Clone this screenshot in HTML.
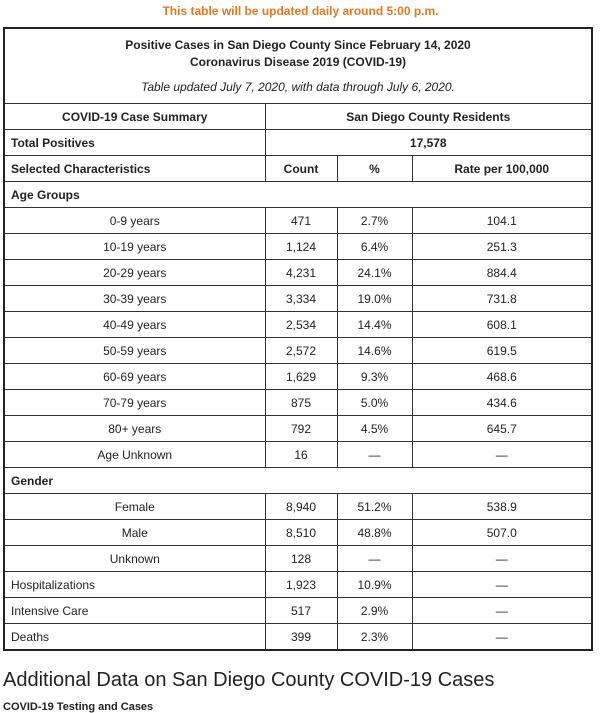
<!DOCTYPE html>
<html><head><style>
body{margin:0;background:#fff;width:601px;height:708px;overflow:hidden;font-family:"Liberation Sans",Arial,sans-serif;color:#222;position:relative}
.top{position:absolute;top:4px;left:0;width:601px;text-align:center;color:#e87722;font-weight:bold;font-size:12px}
table{position:absolute;left:3px;top:27px;border-collapse:collapse;table-layout:fixed;width:590px;border:2px solid #222;font-size:12px}
td{border:1px solid #333;height:25px;padding:0 6px;text-align:center;white-space:nowrap;overflow:hidden}
td.l{text-align:left}
b,.b{font-weight:bold}
.title td{height:74px;line-height:17px}
h2{position:absolute;top:669px;left:3px;margin:0;font-weight:normal;font-size:20px;color:#222}
.sub{position:absolute;top:701px;left:3px;font-size:11px;font-weight:bold}
</style></head><body>
<div class="top">This table will be updated daily around 5:00 p.m.</div>
<table>
<colgroup><col style="width:261px"><col style="width:72px"><col style="width:75px"><col></colgroup>
<tr class="title"><td colspan="4"><b>Positive Cases in San Diego County Since February 14, 2020<br>Coronavirus Disease 2019 (COVID-19)</b><div style="font-style:italic;margin-top:8px">Table updated July 7, 2020, with data through July 6, 2020.</div></td></tr>
<tr class="b"><td>COVID-19 Case Summary</td><td colspan="3">San Diego County Residents</td></tr>
<tr class="b"><td class="l">Total Positives</td><td colspan="3">17,578</td></tr>
<tr class="b"><td class="l">Selected Characteristics</td><td>Count</td><td>%</td><td>Rate per 100,000</td></tr>
<tr class="b"><td class="l" colspan="4">Age Groups</td></tr>
<tr><td>0-9 years</td><td>471</td><td>2.7%</td><td>104.1</td></tr>
<tr><td>10-19 years</td><td>1,124</td><td>6.4%</td><td>251.3</td></tr>
<tr><td>20-29 years</td><td>4,231</td><td>24.1%</td><td>884.4</td></tr>
<tr><td>30-39 years</td><td>3,334</td><td>19.0%</td><td>731.8</td></tr>
<tr><td>40-49 years</td><td>2,534</td><td>14.4%</td><td>608.1</td></tr>
<tr><td>50-59 years</td><td>2,572</td><td>14.6%</td><td>619.5</td></tr>
<tr><td>60-69 years</td><td>1,629</td><td>9.3%</td><td>468.6</td></tr>
<tr><td>70-79 years</td><td>875</td><td>5.0%</td><td>434.6</td></tr>
<tr><td>80+ years</td><td>792</td><td>4.5%</td><td>645.7</td></tr>
<tr><td>Age Unknown</td><td>16</td><td>—</td><td>—</td></tr>
<tr class="b"><td class="l" colspan="4">Gender</td></tr>
<tr><td>Female</td><td>8,940</td><td>51.2%</td><td>538.9</td></tr>
<tr><td>Male</td><td>8,510</td><td>48.8%</td><td>507.0</td></tr>
<tr><td>Unknown</td><td>128</td><td>—</td><td>—</td></tr>
<tr><td class="l">Hospitalizations</td><td>1,923</td><td>10.9%</td><td>—</td></tr>
<tr><td class="l">Intensive Care</td><td>517</td><td>2.9%</td><td>—</td></tr>
<tr><td class="l">Deaths</td><td>399</td><td>2.3%</td><td>—</td></tr>
</table>
<h2>Additional Data on San Diego County COVID-19 Cases</h2>
<div class="sub">COVID-19 Testing and Cases</div>
</body></html>
